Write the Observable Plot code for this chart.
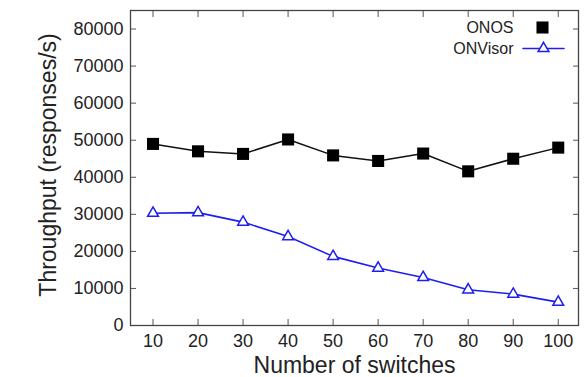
<!DOCTYPE html>
<html>
<head>
<meta charset="utf-8">
<script src="https://cdn.jsdelivr.net/npm/d3@7"></script>
<script src="https://cdn.jsdelivr.net/npm/@observablehq/plot@0.6"></script>
<style>
  html, body { margin: 0; padding: 0; background: #fff; }
  #chart svg { display: block; }
</style>
</head>
<body>
<div id="chart"></div>
<script>
const switches = [10, 20, 30, 40, 50, 60, 70, 80, 90, 100];
const onos = [49000, 47000, 46300, 50200, 45900, 44400, 46400, 41600, 45000, 48000];
const onvisor = [30300, 30450, 27900, 24000, 18650, 15500, 12970, 9640, 8470, 6300];
const seriesNames = ["ONOS", "ONVisor"];
const xTicks = [10, 20, 30, 40, 50, 60, 70, 80, 90, 100];
const yTicks = [0, 10000, 20000, 30000, 40000, 50000, 60000, 70000, 80000];
const xTitle = "Number of switches";
const yTitle = "Throughput (responses/s)";

const onosData = switches.map((s, i) => ({x: s, y: onos[i]}));
const onvisorData = switches.map((s, i) => ({x: s, y: onvisor[i]}));

const blue = "#1e1ef0";
const font = "'Liberation Sans', Arial, Helvetica, sans-serif";

const chart = Plot.plot({
  width: 585,
  height: 377,
  marginLeft: 130,
  marginRight: 7,
  marginTop: 10,
  marginBottom: 52,
  style: {fontFamily: font, background: "#fff", color: "#222"},
  x: {domain: [5, 104.5]},
  y: {domain: [0, 85000]},
  marks: [
    // tick labels
    Plot.axisX({ticks: xTicks, tickSize: 0, tickPadding: 9, fontSize: 18, label: null, tickFormat: d => String(d)}),
    Plot.axisY({ticks: yTicks, tickSize: 0, tickPadding: 7, fontSize: 18, label: null, tickFormat: d => String(d)}),
    // inward ticks on all four sides
    Plot.axisX({anchor: "bottom", ticks: xTicks, tickSize: -6, tickFormat: () => "", label: null, stroke: "#555"}),
    Plot.axisX({anchor: "top", ticks: xTicks, tickSize: -6, tickFormat: () => "", label: null, stroke: "#555"}),
    Plot.axisY({anchor: "left", ticks: yTicks, tickSize: -6, tickFormat: () => "", label: null, stroke: "#555"}),
    Plot.axisY({anchor: "right", ticks: yTicks, tickSize: -6, tickFormat: () => "", label: null, stroke: "#555"}),
    Plot.frame({stroke: "#444", strokeWidth: 1.3}),
    // axis titles
    Plot.text([xTitle], {frameAnchor: "bottom", dy: 40, fontSize: 23, fill: "#222", textAnchor: "middle", lineAnchor: "middle"}),
    Plot.text([yTitle], {frameAnchor: "left", dx: -82, dy: -3, rotate: -90, fontSize: 23, fill: "#222", textAnchor: "middle", lineAnchor: "middle"}),
    // series
    Plot.line(onosData, {x: "x", y: "y", stroke: "#111", strokeWidth: 1.5}),
    Plot.dot(onosData, {x: "x", y: "y", symbol: "square", r: 6.8, fill: "#000", stroke: "none"}),
    Plot.line(onvisorData, {x: "x", y: "y", stroke: blue, strokeWidth: 1.6}),
    Plot.dot(onvisorData, {x: "x", y: "y", symbol: "triangle", r: 4, fill: "#fff", stroke: blue, strokeWidth: 1.5}),
    // legend
    Plot.text([seriesNames[0]], {frameAnchor: "top-right", dx: -65, dy: 17, textAnchor: "end", lineAnchor: "middle", fontSize: 16, fill: "#222"}),
    Plot.text([seriesNames[1]], {frameAnchor: "top-right", dx: -65, dy: 38, textAnchor: "end", lineAnchor: "middle", fontSize: 16, fill: "#222"}),
    Plot.dot([seriesNames[0]], {frameAnchor: "top-right", dx: -36, dy: 17, symbol: "square", r: 6.8, fill: "#000", stroke: "none"}),
    Plot.vector([seriesNames[1]], {frameAnchor: "top-right", dx: -55.5, dy: 38, rotate: 90, length: 41, anchor: "start", stroke: blue, strokeWidth: 1.6,
      shape: {draw(context, l) { context.moveTo(0, 0); context.lineTo(0, -l); }}}),
    Plot.dot([seriesNames[1]], {frameAnchor: "top-right", dx: -35, dy: 38, symbol: "triangle", r: 4, fill: "#fff", stroke: blue, strokeWidth: 1.5})
  ]
});
document.getElementById("chart").appendChild(chart);
</script>
</body>
</html>
